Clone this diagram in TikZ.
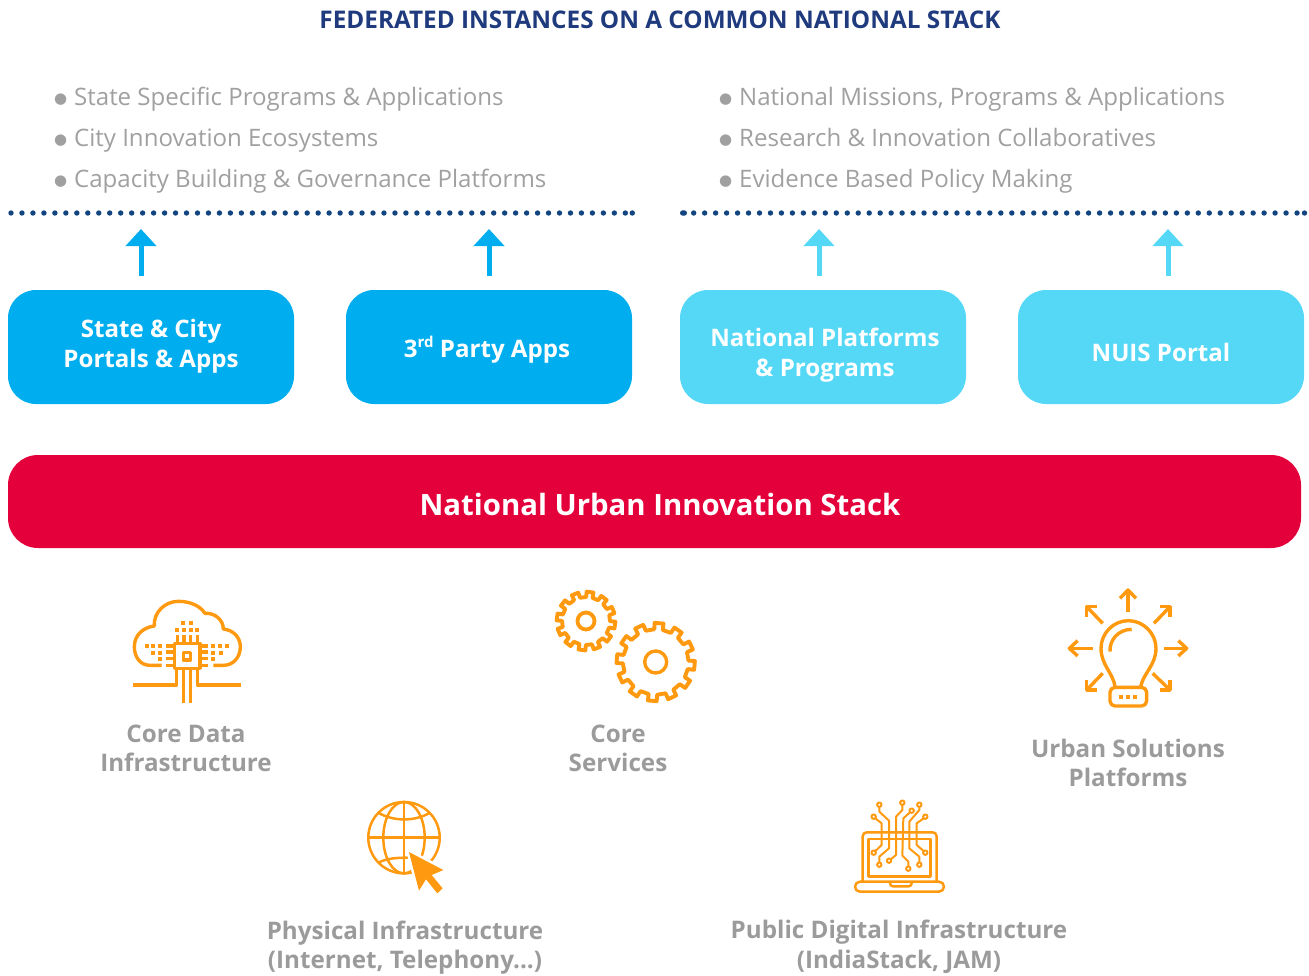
\documentclass[tikz,border=0pt]{standalone}
\usepackage{fontspec}
\setmainfont{Open Sans}
\newfontfamily\bulfont{DejaVu Sans}
\usetikzlibrary{arrows.meta}
\definecolor{cblue}{HTML}{00AEEF}
\definecolor{clight}{HTML}{55D8F6}
\definecolor{cred}{HTML}{E4003A}
\definecolor{corange}{HTML}{FF9A10}
\definecolor{cgrey}{HTML}{9B9B9B}
\definecolor{clist}{HTML}{A0A0A0}
\definecolor{ctitle}{HTML}{1F3A7D}
\definecolor{cdots}{HTML}{12457F}
\tikzset{
  boxa/.style={fill=cblue,rounded corners=28pt,minimum width=286pt,minimum height=114pt,inner sep=0pt},
  boxb/.style={boxa,fill=clight},
  boxtext/.style={text=white,align=center,font=\fontsize{24.1}{29.5}\selectfont\bfseries,inner sep=0pt},
  upa/.style={draw=cblue,line width=5pt,-{Triangle[width=30pt,length=17pt]}},
  upb/.style={upa,draw=clight},
  dotline/.style={draw=cdots,line width=5.4pt,line cap=round,dash pattern=on 0pt off 10.97pt},
  listitem/.style={anchor=base west,text=clist,font=\fontsize{24.05}{30}\selectfont,inner sep=0pt},
  lab/.style={text=cgrey,align=center,font=\fontsize{24.2}{29.5}\selectfont\bfseries,inner sep=0pt},
  ico/.style={draw=corange,line width=3.4pt,line join=round},
  icothin/.style={draw=corange,line width=2.5pt,line join=round},
  icolap/.style={draw=corange,line width=2pt,line join=round},
}
\newcommand{\bul}{\raisebox{1.5pt}{\bulfont\fontsize{15}{15}\selectfont ●}\hspace{6.9pt}}
\newcommand{\gearshape}[5]{% teeth, root r, outer r, offset, half widths
  \draw[ico,line width=3.9pt,line join=round] ({#4-#5*1.1}:#2)
  \foreach \i in {1,...,#1}{
    -- ({#4+(\i-1)*360/#1-#5*0.95}:#3) -- ({#4+(\i-1)*360/#1+#5*0.95}:#3)
    -- ({#4+(\i-1)*360/#1+#5*1.1}:#2) -- ({#4+\i*360/#1-#5*1.1}:#2)
  } -- cycle;
}
\begin{document}
\begin{tikzpicture}[x=1pt,y=-1pt]
\useasboundingbox (0,0) rectangle (1309,975);
\node[inner sep=0pt,text=ctitle,font=\fontsize{24.3}{29}\selectfont\bfseries] (title) at (660,20) {FEDERATED INSTANCES ON A COMMON NATIONAL STACK};
% lists
\node[listitem] (l1) at (54,105) {\bul State Specific Programs \& Applications};
\node[listitem] (l2) at (54,146) {\bul City Innovation Ecosystems};
\node[listitem] (l3) at (54,187) {\bul Capacity Building \& Governance Platforms};
\node[listitem] (r1) at (719,105) {\bul National Missions, Programs \& Applications};
\node[listitem] (r2) at (719,146) {\bul Research \& Innovation Collaboratives};
\node[listitem] (r3) at (719,187) {\bul Evidence Based Policy Making};
% dotted rules
\coordinate (da) at (11,213); \coordinate (db) at (632.3,213);
\coordinate (dc) at (682.7,213); \coordinate (dd) at (1304.5,213);
\draw[dotline] (da) -- (db);
\draw[dotline] (dc) -- (dd);
\fill[cdots] (db) circle (2.7pt) (dd) circle (2.7pt);
\fill[cdots] (684.3,213) circle (2.7pt);
% boxes
\node[boxa] (b1) at (151,347) {};
\node[boxa] (b2) at (489,347) {};
\node[boxb] (b3) at (823,347) {};
\node[boxb] (b4) at (1161,347) {};
\node[boxtext] (b1t) at (151,346) {State \& City\\Portals \& Apps};
\node[boxtext] (b2t) at (489,350) {\hspace{-4pt}3\raisebox{0.42em}{\fontsize{15}{15}\selectfont rd} Party Apps};
\node[boxtext] (b3t) at (825,355) {National Platforms\\\& Programs};
\node[boxtext] (b4t) at (1161,352) {NUIS Portal};
\node[fill=cred,rounded corners=30pt,minimum width=1293pt,minimum height=93pt,inner sep=0pt] (stack) at (654.5,501.5) {};
\node[inner sep=0pt,text=white,font=\fontsize{29.35}{36}\selectfont\bfseries] (stackt) at (660,504.5) {National Urban Innovation Stack};
% arrows
\foreach \n/\x/\s in {1/141/upa,2/489/upa,3/819/upb,4/1168/upb}{
  \coordinate (s\n) at (\x,276); \coordinate (e\n) at (\x,229);
  \draw[\s] (s\n) -- (e\n);
}
% cloud icon
\begin{scope}[shift={(100,580)},x=0.3333pt,y=-0.3333pt]
  \draw[ico] (185,256) -- (150,256) .. controls (120,256) and (103,230) .. (103,200) .. controls (103,165) and (130,142) .. (163,138) .. controls (160,97) and (195,64) .. (235,64) .. controls (270,64) and (300,77) .. (315,100) .. controls (345,98) and (370,120) .. (370,147) .. controls (400,150) and (421,172) .. (421,200) .. controls (421,232) and (400,256) .. (370,256) -- (340,256);
  \draw[ico] (223,190) rectangle (300,265);
  \draw[ico] (250,218) rectangle (272,240);
  \foreach \x in {232,252,272,292} \draw[ico] (\x,165) -- (\x,190);
  \foreach \y in {198,216,236,256} { \draw[ico] (197,\y) -- (223,\y); \draw[ico] (300,\y) -- (325,\y); }
  \draw[ico] (230,268) -- (230,315) -- (100,315);
  \draw[ico] (250,268) -- (250,368);
  \draw[ico] (272,268) -- (272,368);
  \draw[ico] (292,268) -- (292,315) -- (422,315);
  \foreach \x/\y in {250/128,273/128,231/150,252/150,273/150,290/150,140/197,160/197,180/197,160/218,180/218,180/237,340/197,360/197,382/197,340/218,362/218,340/237}
    \fill[corange] (\x-6,\y-6) rectangle (\x+6,\y+6);
\end{scope}
% gears
\begin{scope}[shift={(586,621)}]
  \gearshape{12}{24}{29.4}{8}{7}
  \draw[ico,line width=3.8pt] (0,0) circle (8.5pt);
\end{scope}
\begin{scope}[shift={(655.7,662)}]
  \gearshape{12}{32.8}{39.2}{5}{6.8}
  \draw[ico,line width=3.4pt] (0,0) circle (11pt);
\end{scope}
% bulb
\begin{scope}[shift={(1050,580)},x=0.3333pt,y=-0.3333pt]
  \draw[ico] (195,320) .. controls (190,280) and (153,255) .. (153,205) .. controls (153,160) and (190,122) .. (235,122) .. controls (280,122) and (318,160) .. (318,205) .. controls (318,255) and (280,280) .. (272,320);
  \draw[ico] (180,215) .. controls (178,180) and (205,148) .. (245,148);
  \draw[ico,rounded corners=5pt] (180,322) rectangle (290,378);
  \foreach \x in {212,234,256} \fill[corange] (\x-6,344) rectangle (\x+6,356);
  \draw[ico] (234,97) -- (234,30); \draw[ico] (210,55) -- (234,30) -- (258,55);
  \draw[ico] (342,205) -- (410,205); \draw[ico] (385,182) -- (410,205) -- (385,228);
  \draw[ico] (128,205) -- (58,205); \draw[ico] (83,182) -- (58,205) -- (83,228);
  \draw[ico] (158,130) -- (110,80); \draw[ico] (110,110) -- (110,80) -- (142,80);
  \draw[ico] (312,130) -- (360,80); \draw[ico] (330,80) -- (360,80) -- (360,110);
  \draw[ico] (158,280) -- (110,330); \draw[ico] (110,300) -- (110,330) -- (142,330);
  \draw[ico] (308,280) -- (360,330); \draw[ico] (330,330) -- (360,330) -- (360,300);
\end{scope}
% globe
\begin{scope}[shift={(350,790)},x=0.3333pt,y=-0.3333pt]
  \draw[icothin] (162,143) circle (35.7pt);
  \draw[icothin] (162,143) ellipse (20.7pt and 35.7pt);
  \draw[icothin] (55,143) -- (270,143);
  \draw[icothin] (162,36) -- (162,250);
  \draw[icothin] (85,68) .. controls (130,95) and (195,95) .. (240,68);
  \draw[icothin] (85,218) .. controls (110,205) and (140,203) .. (175,203);
  \draw[white,line width=5pt,line join=round] (177,186) -- (280,240) -- (245,255) -- (278,295) -- (262,310) -- (228,268) -- (207,302) -- cycle;
  \fill[corange] (177,186) -- (280,240) -- (245,255) -- (278,295) -- (262,310) -- (228,268) -- (207,302) -- cycle;
\end{scope}
% laptop
\begin{scope}[shift={(840,790)},x=0.3333pt,y=-0.3333pt]
  \draw[icothin,rounded corners=4pt] (68,275) -- (68,127) -- (290,127) -- (290,275);
  \draw[icothin] (85,147) rectangle (272,260);
  \draw[icothin,rounded corners=5pt] (45,275) -- (312,275) -- (312,305) -- (45,305) -- cycle;
  \draw[icothin,rounded corners=3pt] (150,277) -- (150,289) -- (215,289) -- (215,277);
  \foreach \x/\y in {118/44,101/80,187/38,215/62,238/44,256/80,101/188,118/224,147/212,205/236,238/224,256/188}
    \draw[icolap] (\x,\y) circle (2.2pt);
  \draw[icolap] (118,51) -- (118,65) -- (147,92) -- (147,175) -- (118,200) -- (118,217);
  \draw[icolap] (106,85) -- (125,100) -- (125,165) -- (106,183);
  \draw[icolap] (187,45) -- (187,60) -- (168,80) -- (168,195) -- (152,208);
  \draw[icolap] (210,67) -- (190,85) -- (187,197) -- (205,215) -- (205,229);
  \draw[icolap] (238,51) -- (238,60) -- (208,95) -- (208,175) -- (238,200) -- (238,217);
  \draw[icolap] (251,85) -- (230,100) -- (230,165) -- (251,183);
\end{scope}
% labels
\node[lab] (t1) at (186,748.5) {Core Data\\Infrastructure};
\node[lab] (t2) at (618,748.5) {Core\\Services};
\node[lab] (t3) at (1128,763) {Urban Solutions\\Platforms};
\node[lab] (t4) at (405,947.5) {Physical Infrastructure\\(Internet, Telephony...)};
\node[lab] (t5) at (899,947) {Public Digital Infrastructure\\(IndiaStack, JAM)};
\end{tikzpicture}
\end{document}
